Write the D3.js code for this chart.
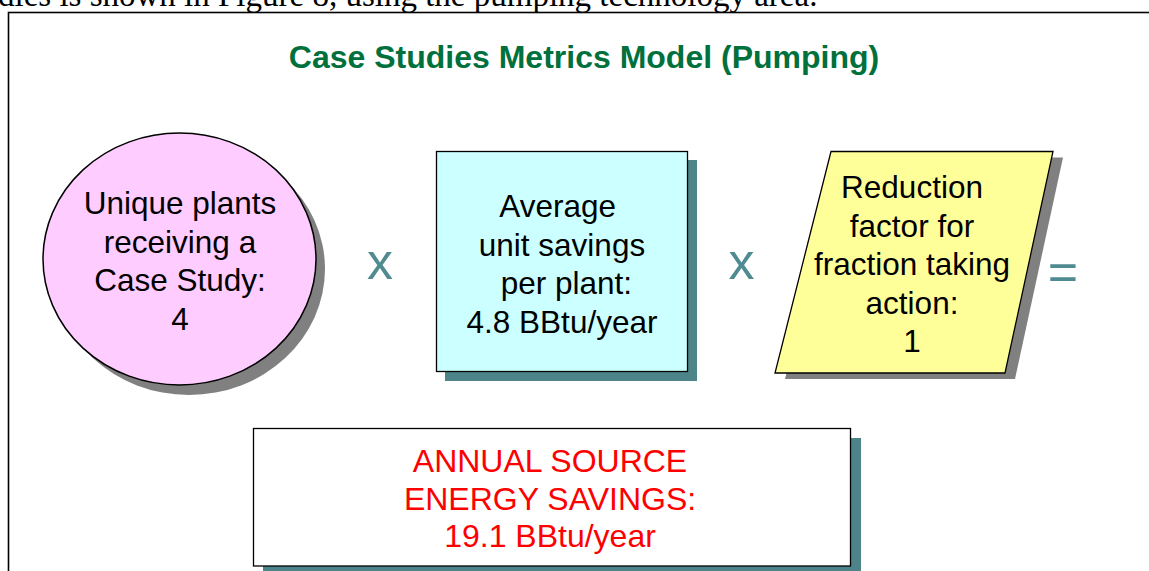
<!DOCTYPE html>
<html>
<head>
<meta charset="utf-8">
<script src="https://cdn.jsdelivr.net/npm/d3@7"></script>
<style>
  html, body { margin: 0; padding: 0; background: #fff; overflow: hidden; }
  text { font-family: Arial, "Liberation Sans", sans-serif; }
</style>
</head>
<body>
<div id="chart"></div>
<script>
// Metrics model: three factors multiplied together give the annual savings.
const titleText = 'Case Studies Metrics Model (Pumping)';
const captionText = 'dies is shown in Figure 8, using the pumping technology area.';

const factorNames = ['Unique plants receiving a Case Study:', 'Average unit savings per plant:', 'Reduction factor for fraction taking action:'];
const factorLines = [
    ['Unique plants', 'receiving a', 'Case Study:'],
    ['Average ', 'unit savings', ' per plant:'],
    ['Reduction', 'factor for', 'fraction taking', 'action:'],
];
const factorValues = [4, 4.8, 1];
const factorUnits = ['', ' BBtu/year', ''];
const operators = ['x', 'x', '='];

const resultLines = ['ANNUAL SOURCE', 'ENERGY SAVINGS:'];
const resultValue = 19.1;
const resultUnit = ' BBtu/year';

const width = 1149;
const height = 571;

const svg = d3.select('#chart').append('svg')
    .attr('width', width)
    .attr('height', height);

// caption line from the report, cut off by the top of the picture
svg.append('text')
    .attr('x', -2)
    .attr('y', 6)
    .style('font-family', '"Liberation Serif", "Times New Roman", serif')
    .style('font-size', '33px')
    .attr('fill', '#000')
    .text(captionText);

// slide frame
svg.append('rect')
    .attr('x', 8.5)
    .attr('y', 12.5)
    .attr('width', width + 20)
    .attr('height', height + 20)
    .attr('fill', '#fff')
    .attr('stroke', '#000')
    .attr('stroke-width', 1.6);

svg.append('text')
    .attr('x', 584)
    .attr('y', 68)
    .attr('text-anchor', 'middle')
    .style('font-size', '32px')
    .style('font-weight', 'bold')
    .attr('fill', '#00703c')
    .text(titleText);

const lineGap = 38.5;
const fontSize = '31.5px';

const writeLines = (g, lines, cx, firstBaseline, color) => {
    g.selectAll(null)
        .data(lines)
        .enter().append('text')
        .attr('x', cx)
        .attr('y', (d, i) => firstBaseline + i * lineGap)
        .attr('text-anchor', 'middle')
        .style('font-size', fontSize)
        .style('white-space', 'pre')
        .attr('xml:space', 'preserve')
        .attr('fill', color)
        .text(d => d);
};

const fmt = v => (Number.isInteger(v) ? String(v) : v.toFixed(1));

// factor 1: ellipse
const g1 = svg.append('g').attr('class', 'factor').attr('aria-label', factorNames[0]);
g1.append('ellipse')
    .attr('cx', 189).attr('cy', 269).attr('rx', 136).attr('ry', 126)
    .attr('fill', '#808080');
g1.append('ellipse')
    .attr('cx', 179.5).attr('cy', 259).attr('rx', 136.5).attr('ry', 126)
    .attr('fill', '#ffccff')
    .attr('stroke', '#000')
    .attr('stroke-width', 1.5);
writeLines(g1, factorLines[0].concat([fmt(factorValues[0]) + factorUnits[0]]), 180, 214, '#000');

// factor 2: rectangle
const g2 = svg.append('g').attr('class', 'factor').attr('aria-label', factorNames[1]);
g2.append('rect')
    .attr('x', 445).attr('y', 160).attr('width', 252).attr('height', 221)
    .attr('fill', '#4d8489');
g2.append('rect')
    .attr('x', 436.5).attr('y', 151.5).attr('width', 251).attr('height', 220)
    .attr('fill', '#ccffff')
    .attr('stroke', '#000')
    .attr('stroke-width', 1.3);
writeLines(g2, factorLines[1].concat([fmt(factorValues[1]) + factorUnits[1]]), 562, 217, '#000');

// factor 3: parallelogram
const para = [[831, 151.5], [1053, 151.5], [1005, 373], [775, 373]];
const line = d3.line();
const g3 = svg.append('g').attr('class', 'factor').attr('aria-label', factorNames[2]);
g3.append('path')
    .attr('d', line(para.map(p => [p[0] + 10, p[1] + 6])) + 'Z')
    .attr('fill', '#808080');
g3.append('path')
    .attr('d', line(para) + 'Z')
    .attr('fill', '#ffff99')
    .attr('stroke', '#000')
    .attr('stroke-width', 1.3);
writeLines(g3, factorLines[2].concat([fmt(factorValues[2]) + factorUnits[2]]), 912, 198, '#000');

// operators between the factors
const opX = [380, 741.5, 1063];
svg.selectAll('.op')
    .data(operators)
    .enter().append('text')
    .attr('class', 'op')
    .attr('x', (d, i) => opX[i])
    .attr('y', (d, i) => (d === '=' ? 290 : 279))
    .attr('text-anchor', 'middle')
    .style('font-size', '52px')
    .attr('fill', '#4f8b91')
    .text(d => d);

// result box
const g4 = svg.append('g').attr('class', 'result');
g4.append('rect')
    .attr('x', 263).attr('y', 438).attr('width', 598).attr('height', 140)
    .attr('fill', '#4d8489');
g4.append('rect')
    .attr('x', 253.5).attr('y', 428.5).attr('width', 597).attr('height', 137.5)
    .attr('fill', '#fff')
    .attr('stroke', '#000')
    .attr('stroke-width', 1.3);
const resLines = resultLines.concat([fmt(resultValue) + resultUnit]);
g4.selectAll(null)
    .data(resLines)
    .enter().append('text')
    .attr('x', 550)
    .attr('y', (d, i) => 472 + i * 37.5)
    .attr('text-anchor', 'middle')
    .style('font-size', '32px')
    .attr('fill', '#ff0000')
    .text(d => d);
</script>
</body>
</html>
